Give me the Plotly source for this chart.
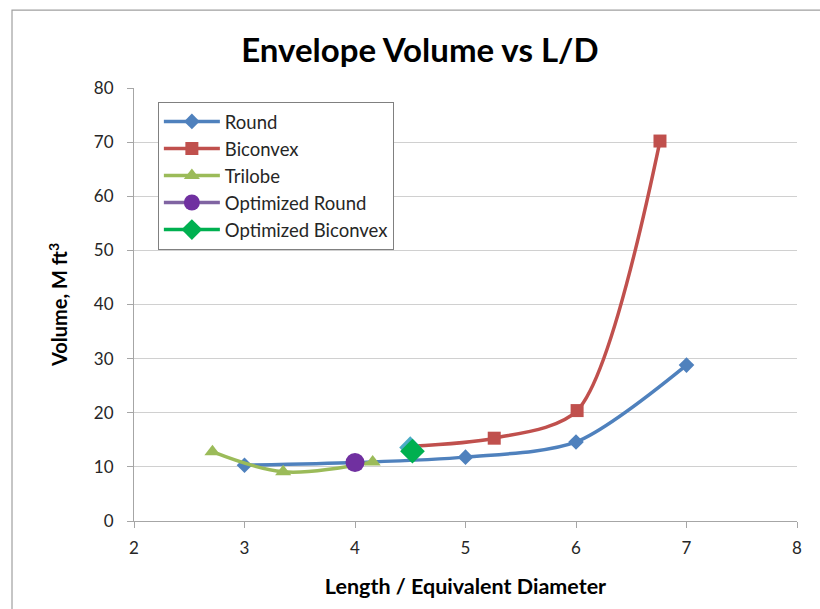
import plotly.graph_objects as go

round_x = [3, 4, 5, 6, 7]
round_y = [10.3, 10.8, 11.8, 14.6, 28.8]
biconvex_x = [4.5, 5.26, 6.01, 6.76]
biconvex_y = [13.8, 15.3, 20.4, 70.2]
trilobe_x = [2.71, 3.35, 4.16]
trilobe_y = [12.8, 9.1, 10.9]
opt_round_x = [4.0]
opt_round_y = [10.8]
opt_biconvex_x = [4.52]
opt_biconvex_y = [12.9]
extra_x = [4.5]
extra_y = [13.6]

FONT = "Lato"
fig = go.Figure()

fig.add_trace(go.Scatter(x=round_x, y=round_y, name="Round", mode="lines+markers",
                         line=dict(color="#4F81BD", width=3.5, shape="spline", smoothing=0.8),
                         marker=dict(symbol="diamond", size=12, color="#4F81BD")))
fig.add_trace(go.Scatter(x=biconvex_x[1:], y=biconvex_y[1:], name="Biconvex", mode="markers",
                         marker=dict(symbol="square", size=13, color="#C0504D"),
                         showlegend=False, legendgroup="b"))
fig.add_trace(go.Scatter(x=biconvex_x, y=biconvex_y, name="Biconvex", mode="lines",
                         line=dict(color="#C0504D", width=3.5, shape="spline", smoothing=0.8),
                         showlegend=False, legendgroup="b"))
fig.add_trace(go.Scatter(x=[None], y=[None], name="Biconvex", mode="lines+markers",
                         line=dict(color="#C0504D", width=3.5),
                         marker=dict(symbol="square", size=13, color="#C0504D"),
                         legendgroup="b"))
fig.add_trace(go.Scatter(x=extra_x, y=extra_y, name="", mode="markers",
                         marker=dict(symbol="diamond", size=17, color="#4BACC6"),
                         showlegend=False))
fig.add_trace(go.Scatter(x=trilobe_x, y=trilobe_y, name="Trilobe", mode="lines+markers",
                         line=dict(color="#9BBB59", width=3.5, shape="spline", smoothing=1),
                         marker=dict(symbol="triangle-up", size=14, color="#9BBB59")))
fig.add_trace(go.Scatter(x=opt_round_x, y=opt_round_y, name="Optimized Round", mode="lines+markers",
                         line=dict(color="#8064A2", width=3.5),
                         marker=dict(symbol="circle", size=19, color="#7030A0")))
fig.add_trace(go.Scatter(x=opt_biconvex_x, y=opt_biconvex_y, name="Optimized Biconvex", mode="lines+markers",
                         line=dict(color="#00B050", width=3.5),
                         marker=dict(symbol="diamond", size=19, color="#00B050")))

fig.update_layout(
    width=820, height=609,
    margin=dict(l=134, r=23, t=88, b=88, autoexpand=False),
    paper_bgcolor="white", plot_bgcolor="white",
    font=dict(family=FONT, size=15, color="#404040"),
    title=dict(text="<b>Envelope Volume vs L/D</b>", x=0.512, xref="container", xanchor="center",
               y=1 - 50 / 609, yref="container", yanchor="middle",
               font=dict(family=FONT, size=33, color="black")),
    showlegend=True,
    legend=dict(x=0.036, y=0.968, xanchor="left", yanchor="top",
                bordercolor="#808080", borderwidth=1, bgcolor="white",
                font=dict(family=FONT, size=18.5, color="#262626"),
                tracegroupgap=0, itemwidth=56, traceorder="normal"),
)
fig.update_xaxes(range=[2, 8], dtick=1, showgrid=False, showline=True, linecolor="#A6A6A6",
                 ticks="outside", ticklen=6, tickcolor="#A6A6A6", automargin=False,
                 ticklabelstandoff=6,
                 tickfont=dict(family=FONT, size=17, color="#262626"),
                 title=dict(text="<b>Length / Equivalent Diameter</b>", standoff=21,
                            font=dict(family=FONT, size=21.5, color="black")),
                 zeroline=False)
fig.update_yaxes(range=[0, 80], dtick=10, showgrid=True, gridcolor="#D0D0D0", gridwidth=1.3,
                 showline=True, linecolor="#A6A6A6", automargin=False,
                 ticks="outside", ticklen=6, tickcolor="#A6A6A6", ticklabelstandoff=10,
                 tickfont=dict(family=FONT, size=17, color="#262626"),
                 title=dict(text="<b>Volume, M ft<sup>3</sup></b>", standoff=20,
                            font=dict(family=FONT, size=20, color="black")),
                 zeroline=False)

fig.add_shape(type="rect", xref="paper", yref="paper",
              x0=-0.184, x1=1.2, y0=-0.4, y1=1.18,
              line=dict(color="#A0A0A0", width=1.2), layer="below")

fig.write_html("out.html", config={"displayModeBar": False},
               post_script="document.body.style.margin='0';")
